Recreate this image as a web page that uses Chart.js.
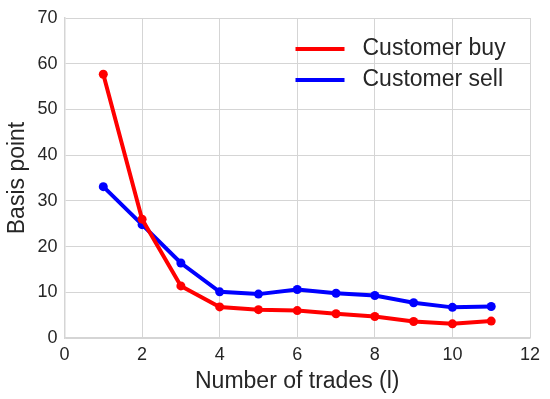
<!DOCTYPE html>
<html>
<head>
<meta charset="utf-8">
<script src="https://cdn.jsdelivr.net/npm/chart.js@4"></script>
<style>
  html, body { margin: 0; padding: 0; background: #fff; }
  #wrap { width: 550px; height: 399px; }
</style>
</head>
<body>
<div id="wrap"><canvas id="grafico"></canvas></div>
<script>
// data
let trades = [1, 2, 3, 4, 5, 6, 7, 8, 9, 10, 11];
let customerBuy = [57.7, 26.0, 11.4, 6.8, 6.2, 6.0, 5.3, 4.7, 3.6, 3.1, 3.7];
let customerSell = [33.1, 24.8, 16.4, 10.1, 9.6, 10.6, 9.8, 9.3, 7.7, 6.7, 6.9];
let xTicks = [0, 2, 4, 6, 8, 10, 12];
let yTicks = [0, 10, 20, 30, 40, 50, 60, 70];

let fonte = "'Liberation Sans', Arial, sans-serif";
let corTexto = "#262626";
let corGrade = "#d5d5d5";

function pontos(valores) {
    return trades.map((t, i) => ({ x: t, y: valores[i] }));
}

// legend drawn inside the plot, top-right, with line samples
let legendaDentro = {
    id: "legendaDentro",
    afterDraw(chart) {
        let c = chart.ctx;
        let area = chart.chartArea;
        let x0 = area.left + 231;
        let y0 = area.top + 31;
        c.save();
        c.font = "23px " + fonte;
        c.textBaseline = "middle";
        chart.data.datasets.forEach((ds, i) => {
            let y = y0 + i * 31;
            c.strokeStyle = ds.borderColor;
            c.lineWidth = 4;
            c.beginPath();
            c.moveTo(x0, y);
            c.lineTo(x0 + 49, y);
            c.stroke();
            c.fillStyle = corTexto;
            c.fillText(ds.label, x0 + 67, y);
        });
        c.restore();
    }
};

let ctx = document.getElementById("grafico").getContext("2d");

let grafico = new Chart(ctx, {
    type: "line",
    data: {
        datasets: [{
            label: "Customer buy",
            data: pontos(customerBuy),
            borderColor: "#ff0000",
            backgroundColor: "#ff0000",
            borderWidth: 4,
            pointRadius: 4.5,
            pointBorderWidth: 0,
            tension: 0
        }, {
            label: "Customer sell",
            data: pontos(customerSell),
            borderColor: "#0000ff",
            backgroundColor: "#0000ff",
            borderWidth: 4,
            pointRadius: 4.5,
            pointBorderWidth: 0,
            tension: 0
        }]
    },
    options: {
        responsive: true,
        maintainAspectRatio: false,
        animation: false,
        layout: {
            padding: { top: 18, right: 20, left: 0, bottom: 0 }
        },
        plugins: {
            legend: { display: false },
            tooltip: { enabled: false }
        },
        scales: {
            x: {
                type: "linear",
                min: 0,
                max: 12,
                afterBuildTicks: scale => { scale.ticks = xTicks.map(v => ({ value: v })); },
                afterFit: scale => { scale.height = 61; },
                grid: { color: corGrade, lineWidth: 1, drawTicks: false },
                border: { color: corGrade, width: 1.5 },
                ticks: {
                    padding: 6,
                    color: corTexto,
                    font: { family: fonte, size: 18 }
                },
                title: {
                    display: true,
                    text: "Number of trades (l)",
                    color: corTexto,
                    font: { family: fonte, size: 23 },
                    padding: { top: 2, bottom: 4 }
                }
            },
            y: {
                min: 0,
                max: 70,
                afterBuildTicks: scale => { scale.ticks = yTicks.map(v => ({ value: v })); },
                afterFit: scale => { scale.width = 64.5; },
                grid: { color: corGrade, lineWidth: 1, drawTicks: false },
                border: { color: corGrade, width: 1.5 },
                ticks: {
                    padding: 7,
                    color: corTexto,
                    font: { family: fonte, size: 18 }
                },
                title: {
                    display: true,
                    text: "Basis point",
                    color: corTexto,
                    font: { family: fonte, size: 23 },
                    padding: { top: 4, bottom: 4 }
                }
            }
        }
    },
    plugins: [legendaDentro]
});
</script>
</body>
</html>
